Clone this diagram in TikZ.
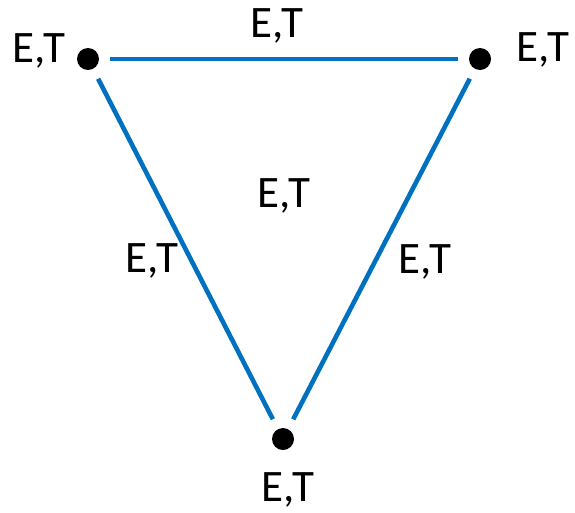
\documentclass[tikz,border=0pt]{standalone}
\usepackage{fontspec}
\setmainfont{Carlito}
\begin{document}
\begin{tikzpicture}[x=1pt,y=-1pt,
  dot/.style={circle,fill=black,inner sep=0pt,minimum size=22pt},
  edge/.style={draw={rgb,255:red,0;green,112;blue,192},line width=4.6pt,shorten >=11pt,shorten <=11pt},
  lab/.style={anchor=base,inner sep=0pt,font=\fontsize{45}{52}\selectfont}]
\useasboundingbox (0,0) rectangle (575,512);
\node[dot] (a) at (88,59) {};
\node[dot] (b) at (480,59) {};
\node[dot] (c) at (283,439) {};
\draw[edge] (a) -- (b);
\draw[edge] (a) -- (c);
\draw[edge] (b) -- (c);
\node[lab] (la) at (39,62) {E,T};
\node[lab] (lb) at (543,61) {E,T};
\node[lab] (lc) at (288,501) {E,T};
\node[lab] (lab) at (277,37) {E,T};
\node[lab] (lac) at (152,272) {E,T};
\node[lab] (lbc) at (425,273) {E,T};
\node[lab] (lf) at (284,207) {E,T};
\end{tikzpicture}
\end{document}
